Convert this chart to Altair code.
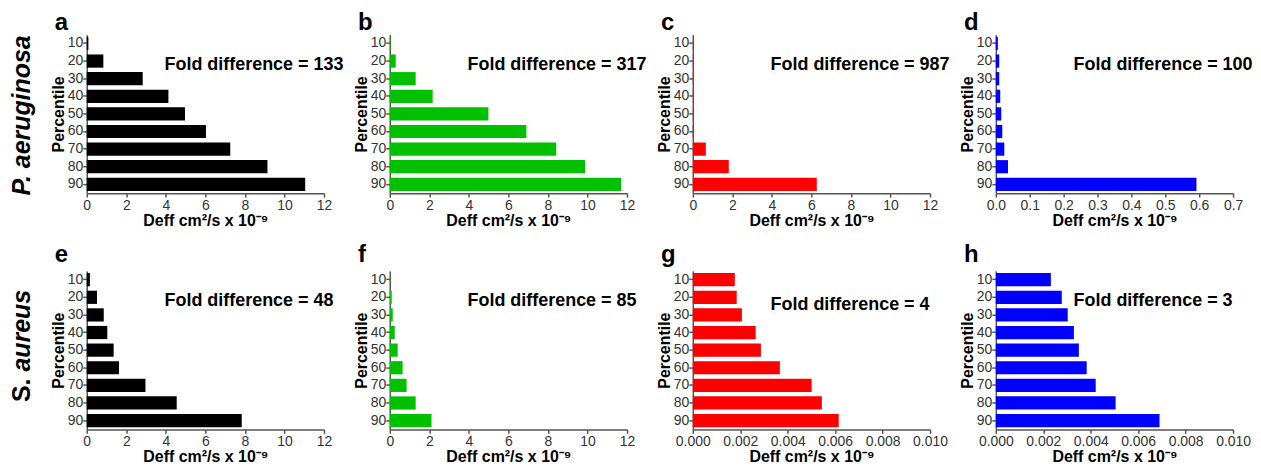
import altair as alt
import pandas as pd

FONT = "Liberation Sans"

PCTS = ["10", "20", "30", "40", "50", "60", "70", "80", "90"]

# Deff values (cm^2/s x 10^-9)
vals_a = [0.083, 0.84, 2.83, 4.13, 4.97, 6.03, 7.26, 9.14, 11.05]
vals_b = [0.037, 0.30, 1.31, 2.17, 4.99, 6.91, 8.42, 9.88, 11.70]
vals_c = [0.0064, 0.012, 0.018, 0.025, 0.035, 0.045, 0.66, 1.82, 6.27]
vals_d = [0.0059, 0.010, 0.010, 0.013, 0.016, 0.019, 0.025, 0.036, 0.592]
vals_e = [0.16, 0.52, 0.86, 1.04, 1.36, 1.63, 2.97, 4.55, 7.84]
vals_f = [0.025, 0.10, 0.15, 0.25, 0.40, 0.65, 0.85, 1.31, 2.11]
vals_g = [0.00177, 0.00185, 0.00207, 0.00265, 0.00287, 0.00367, 0.00501, 0.00544, 0.00615]
vals_h = [0.00232, 0.00278, 0.00303, 0.00329, 0.00350, 0.00383, 0.00421, 0.00505, 0.00690]

folds = ["133", "317", "987", "100", "48", "85", "4", "3"]
letters = ["a", "b", "c", "d", "e", "f", "g", "h"]

ticks_12 = [0, 2, 4, 6, 8, 10, 12]
ticks_07 = [0.0, 0.1, 0.2, 0.3, 0.4, 0.5, 0.6, 0.7]
ticks_001 = [0.0, 0.002, 0.004, 0.006, 0.008, 0.010]

BLACK = "#000000"
GREEN = "#00c000"
RED = "#ff0000"
BLUE = "#0000ff"

W, H = 238, 159
XTITLE = "Deff cm²/s x 10⁻⁹"


def panel(vals, color, ticks, fmt, fold, letter, fold_y, letter_y, row_label=None):
    df = pd.DataFrame({"Percentile": PCTS, "Deff": vals})
    one = pd.DataFrame({"k": [0]})
    bars = alt.Chart(df).mark_bar(color=color).encode(
        x=alt.X("Deff:Q",
                scale=alt.Scale(domain=[ticks[0], ticks[-1]], nice=False, zero=True),
                axis=alt.Axis(values=ticks, format=fmt, title=XTITLE,
                              labelOverlap=False, labelFlush=False)),
        y=alt.Y("Percentile:N", sort=PCTS,
                scale=alt.Scale(paddingInner=0.25, paddingOuter=0.125),
                axis=alt.Axis(title="Percentile", labelOverlap=False)),
    )
    fold_t = alt.Chart(one).mark_text(
        text=f"Fold difference = {fold}", align="left", baseline="middle",
        fontSize=18, fontWeight="bold", font=FONT, color="#000000",
    ).encode(x=alt.value(78), y=alt.value(fold_y))
    let_t = alt.Chart(one).mark_text(
        text=letter, align="left", baseline="alphabetic",
        fontSize=24, fontWeight="bold", font=FONT, color="#000000",
    ).encode(x=alt.value(-32), y=alt.value(letter_y))
    layers = [bars, fold_t, let_t]
    if row_label == "P":
        layers.append(alt.Chart(one).mark_text(
            text="P. aeruginosa", angle=270, align="center", baseline="middle",
            fontSize=25, fontWeight="bold", fontStyle="italic", font=FONT, color="#000000",
        ).encode(x=alt.value(-65), y=alt.value(81)))
    elif row_label == "S":
        layers.append(alt.Chart(one).mark_text(
            text="S.", angle=270, align="right", baseline="middle",
            fontSize=25, fontWeight="bold", font=FONT, color="#000000",
        ).encode(x=alt.value(-65), y=alt.value(108)))
        layers.append(alt.Chart(one).mark_text(
            text="aureus", angle=270, align="left", baseline="middle",
            fontSize=25, fontWeight="bold", fontStyle="italic", font=FONT, color="#000000",
        ).encode(x=alt.value(-65), y=alt.value(101)))
    return alt.layer(*layers).properties(width=W, height=H)


panels = [
    panel(vals_a, BLACK, ticks_12, "d", folds[0], letters[0], 30, -5, "P"),
    panel(vals_b, GREEN, ticks_12, "d", folds[1], letters[1], 30, -5),
    panel(vals_c, RED, ticks_12, "d", folds[2], letters[2], 30, -5),
    panel(vals_d, BLUE, ticks_07, ".1f", folds[3], letters[3], 30, -5),
    panel(vals_e, BLACK, ticks_12, "d", folds[4], letters[4], 30, -9, "S"),
    panel(vals_f, GREEN, ticks_12, "d", folds[5], letters[5], 30, -9),
    panel(vals_g, RED, ticks_001, ".3f", folds[6], letters[6], 34, -9),
    panel(vals_h, BLUE, ticks_001, ".3f", folds[7], letters[7], 30, -9),
]

chart = alt.concat(*panels, columns=4, spacing={"row": 78, "column": 66}, bounds="flush").properties(
    padding={"left": 2, "top": 2, "right": 0, "bottom": 0}
).configure(
    font=FONT, background="white"
).configure_view(stroke=None).configure_axis(
    grid=False,
    labelFont=FONT, labelFontSize=14, labelColor="#333333",
    titleFont=FONT, titleFontSize=16, titleFontWeight="bold", titleColor="#000000",
    domainColor="#555555", domainWidth=1.5,
    tickColor="#555555", tickWidth=1.5, tickSize=4,
    labelPadding=1,
).configure_axisY(titlePadding=1, labelPadding=0).configure_axisX(titlePadding=0)

chart.save("out.html", embed_options={"renderer": "svg", "actions": False})
